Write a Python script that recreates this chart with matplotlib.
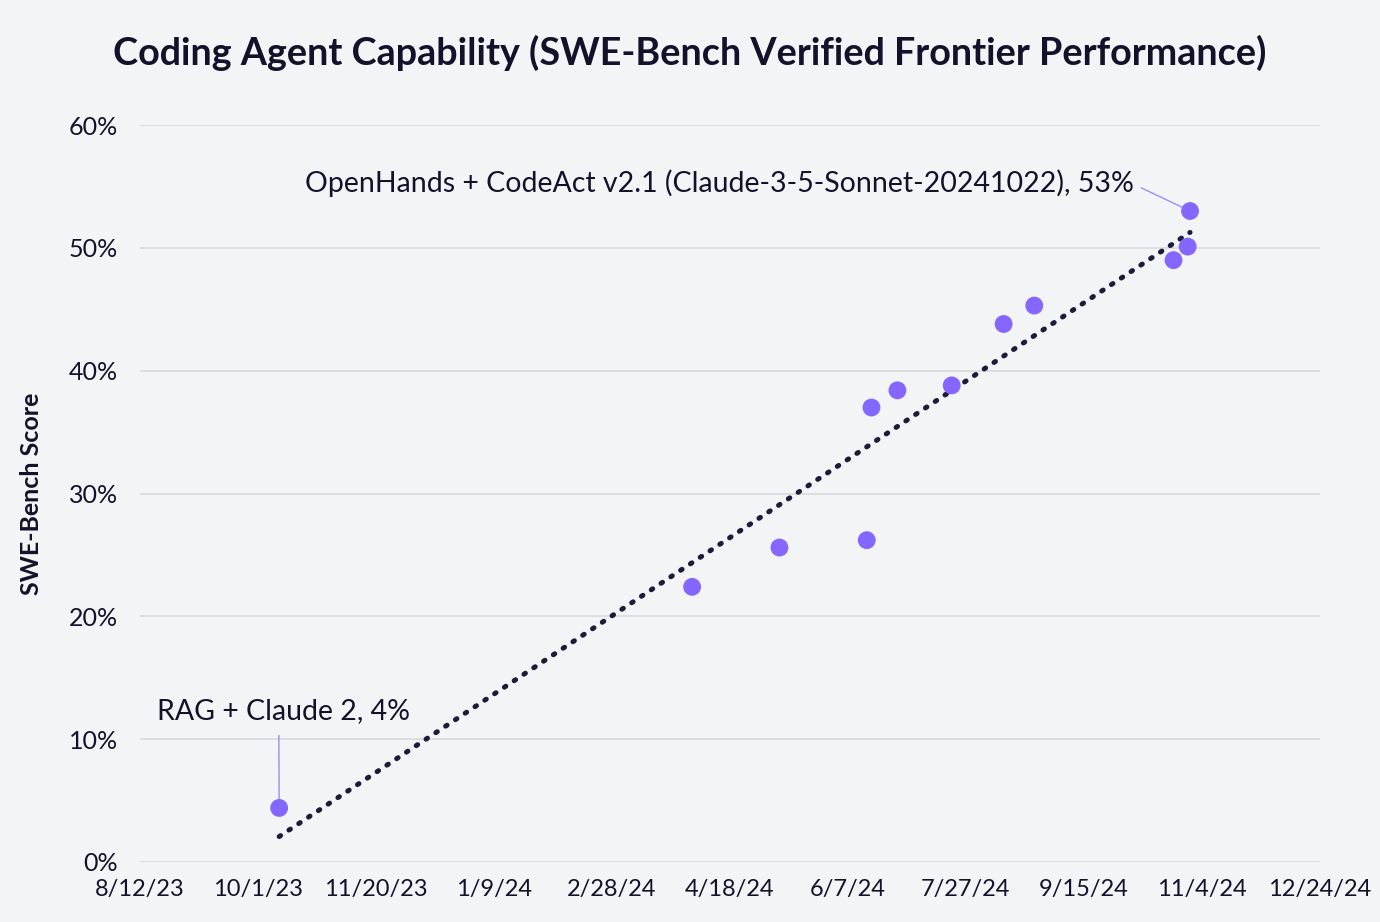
import datetime as dt
import numpy as np
import matplotlib
matplotlib.use("Agg")
from matplotlib import pyplot as plt
import matplotlib.dates as mdates
from matplotlib.ticker import PercentFormatter, FixedLocator, FuncFormatter

# data
release_dates = ["2023-10-10", "2024-04-02", "2024-05-09", "2024-06-15", "2024-06-17",
                 "2024-06-28", "2024-07-21", "2024-08-12", "2024-08-25", "2024-10-23",
                 "2024-10-29", "2024-10-30"]
scores = [4.4, 22.4, 25.6, 26.2, 37.0, 38.4, 38.8, 43.8, 45.3, 49.0, 50.1, 53.0]
tick_dates = ["2023-08-12", "2023-10-01", "2023-11-20", "2024-01-09", "2024-02-28",
              "2024-04-18", "2024-06-07", "2024-07-27", "2024-09-15", "2024-11-04",
              "2024-12-24"]
first_label = "RAG + Claude 2, 4%"
last_label = "OpenHands + CodeAct v2.1 (Claude-3-5-Sonnet-20241022), 53%"

BG = "#f3f4f6"
DOT = "#8566ff"
TREND = "#1e1b3a"
INK = "#14122b"

plt.rcParams['font.family'] = ['Lato', 'DejaVu Sans']

dates = [dt.date.fromisoformat(d) for d in release_dates]
x = mdates.date2num(dates)
ticks = mdates.date2num([dt.date.fromisoformat(d) for d in tick_dates])


def short_date(v, pos):
    d = mdates.num2date(v)
    return f"{d.month}/{d.day}/{d:%y}"


fig = plt.figure(figsize=(13.8, 9.22), dpi=100, facecolor=BG)
ax = fig.add_axes([0.1014, 0.0651, 0.855, 0.7993], facecolor=BG)

# linear trend across the points
coef = np.polyfit(x, scores, 1)
tx = np.array([x[0], x[-1]])
ax.plot(tx, np.polyval(coef, tx), color=TREND, lw=3.6, ls=(0, (0.35, 2.0)),
        dash_capstyle="round", zorder=3)

ax.scatter(x, scores, s=165, color=DOT, edgecolor="none", zorder=4)

ax.set_xlim(ticks[0], ticks[-1])
ax.set_ylim(0, 60)
ax.xaxis.set_major_locator(FixedLocator(ticks))
ax.xaxis.set_major_formatter(FuncFormatter(short_date))
ax.set_yticks(range(0, 61, 10))
ax.yaxis.set_major_formatter(PercentFormatter(decimals=0))
ax.grid(axis="y", color="#d8d8dc", lw=1.1)
ax.set_axisbelow(True)
for s in ax.spines.values():
    s.set_visible(False)
ax.tick_params(length=0, labelsize=17, colors=INK)
ax.tick_params(axis="x", pad=12)
ax.tick_params(axis="y", pad=16, labelsize=18)
ax.set_ylabel("SWE-Bench Score", fontsize=18, fontweight="bold", color=INK, labelpad=18)

# callouts
ax.annotate(first_label, xy=(x[0], scores[0]), xytext=(x[0] + 2, 11.2),
            ha="center", va="bottom", fontsize=20.5, color=INK,
            arrowprops=dict(arrowstyle="-", color="#9d8cf5", lw=1.0,
                            shrinkA=6, shrinkB=0, relpos=(0.48, 0)))
ax.annotate(last_label, xy=(x[-1], scores[-1]), xytext=(x[-1] - 24, 55.3),
            ha="right", va="center", fontsize=20.5, color=INK,
            arrowprops=dict(arrowstyle="-", color="#9d8cf5", lw=1.0,
                            shrinkA=4, shrinkB=0, relpos=(1, 0.45)))

fig.suptitle("Coding Agent Capability (SWE-Bench Verified Frontier Performance)",
             fontsize=27.2, fontweight="bold", color=INK, y=0.962)

fig.savefig("out.png", dpi=100, facecolor=BG)
